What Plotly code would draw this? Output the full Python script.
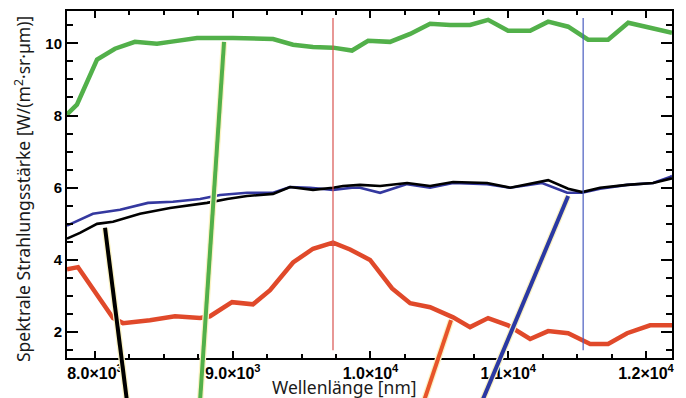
import plotly.graph_objects as go

# ---- data ----
green_x = [7797, 7869, 8015, 8145, 8290, 8450, 8545, 8741, 9002, 9293, 9438, 9583, 9728, 9866,
           9983, 10142, 10288, 10433, 10578, 10723, 10854, 10999, 11159, 11290, 11435, 11580,
           11725, 11871, 12030, 12189]
green_y = [8.03, 8.3, 9.55, 9.85, 10.04, 9.99, 10.04, 10.15, 10.15, 10.12, 9.96, 9.9, 9.88, 9.8,
           10.07, 10.04, 10.26, 10.54, 10.51, 10.51, 10.65, 10.35, 10.35, 10.6, 10.46, 10.1,
           10.1, 10.57, 10.43, 10.29]

blue_x = [7797, 7985, 8182, 8385, 8566, 8763, 8908, 9104, 9293, 9416, 9561, 9728, 9866, 9924,
          10070, 10266, 10433, 10600, 10847, 11014, 11246, 11428, 11537, 11667, 11863, 12052,
          12175, 12189]
blue_y = [4.95, 5.28, 5.39, 5.58, 5.61, 5.69, 5.8, 5.86, 5.86, 6.02, 6.0, 5.94, 6.0, 6.0,
          5.86, 6.1, 6.0, 6.13, 6.1, 6.0, 6.13, 5.86, 5.86, 5.97, 6.08, 6.13, 6.3, 6.33]

black_x = [7797, 7891, 8015, 8131, 8327, 8545, 8813, 8959, 9104, 9293, 9416, 9583, 9728, 9801,
           9924, 10070, 10266, 10433, 10600, 10847, 11014, 11290, 11435, 11537, 11667, 11863,
           12052, 12175, 12189]
black_y = [4.59, 4.75, 5.0, 5.06, 5.28, 5.44, 5.58, 5.69, 5.77, 5.83, 6.02, 5.94, 6.0, 6.05,
           6.08, 6.05, 6.13, 6.05, 6.16, 6.13, 6.0, 6.21, 5.97, 5.88, 6.0, 6.08, 6.13, 6.24, 6.26]

red_x = [7797, 7877, 8131, 8203, 8399, 8581, 8763, 8835, 8995, 9147, 9271, 9438, 9583, 9728,
         9852, 9997, 10157, 10288, 10433, 10600, 10723, 10854, 10999, 11159, 11290, 11435,
         11595, 11725, 11863, 12030, 12189]
red_y = [3.74, 3.8, 2.39, 2.25, 2.33, 2.44, 2.39, 2.44, 2.83, 2.77, 3.16, 3.93, 4.31, 4.48,
         4.29, 4.0, 3.21, 2.8, 2.69, 2.41, 2.14, 2.39, 2.19, 1.81, 2.03, 1.97,
         1.67, 1.67, 1.97, 2.19, 2.19]

# vertical marker lines (wavelength, from value, to value)
marker_x = [9728, 11544]
marker_y0 = [1.5, 1.5]
marker_y1 = [10.7, 10.7]

# callout lines (start on curve, end below the chart)
callout_x0 = [8073, 8937, 10585, 11435]
callout_y0 = [4.89, 10.04, 2.33, 5.77]
callout_x1 = [8232, 8763, 10389, 10812]
callout_y1 = [0.10, 0.10, 0.10, 0.10]

x_range = [7797, 12189]
y_range = [1.284, 10.895]

x_tickvals = [8000, 9000, 10000, 11000, 12000]
x_ticktext = ["8.0×10<sup>3</sup>", "9.0×10<sup>3</sup>", "1.0×10<sup>4</sup>",
              "1.1×10<sup>4</sup>", "1.2×10<sup>4</sup>"]
y_tickvals = [2, 4, 6, 8, 10]
y_ticktext = ["2", "4", "6", "8", "10"]

GREEN = "#52b04a"
BLUE = "#34389f"
BLACK = "#000000"
RED = "#e0492a"
callout_colors = [BLACK, GREEN, "#e8552a", "#2b39a3"]
marker_colors = ["#d9534f", "#4a5cc0"]

fig = go.Figure()
for xs, ys, col, w in [(green_x, green_y, GREEN, 4.5), (red_x, red_y, RED, 4.5),
                       (blue_x, blue_y, BLUE, 2.6), (black_x, black_y, BLACK, 2.6)]:
    fig.add_trace(go.Scatter(x=xs, y=ys, mode="lines",
                             line=dict(color=col, width=w), showlegend=False,
                             hoverinfo="skip"))

for mx, y0, y1, col in zip(marker_x, marker_y0, marker_y1, marker_colors):
    fig.add_shape(type="line", xref="x", yref="y", x0=mx, x1=mx, y0=y0, y1=y1,
                  line=dict(color=col, width=1.2), layer="above")


def px(v):
    return (v - x_range[0]) / (x_range[1] - x_range[0])


def py(v):
    return (v - y_range[0]) / (y_range[1] - y_range[0])


for x0, y0, x1, y1, col in zip(callout_x0, callout_y0, callout_x1, callout_y1, callout_colors):
    fig.add_shape(type="line", xref="paper", yref="paper",
                  x0=px(x0), y0=py(y0), x1=px(x1), y1=py(y1),
                  line=dict(color="#fbf3c4", width=6.5), layer="above")
    fig.add_shape(type="line", xref="paper", yref="paper",
                  x0=px(x0), y0=py(y0), x1=px(x1), y1=py(y1),
                  line=dict(color=col, width=4), layer="above")

X_TICK_FONT = dict(family="Liberation Sans", size=16, color="#000000", weight="bold")
Y_TICK_FONT = dict(family="Liberation Sans", size=15, color="#000000", weight="bold")

fig.add_annotation(text="Wellenlänge [nm]", xref="paper", yref="paper",
                   x=0.458, y=-0.084, xanchor="center", yanchor="middle",
                   showarrow=False,
                   font=dict(family="Noto Sans", size=17.5, color="#1a1a1a"))
fig.add_annotation(text="Spektrale Strahlungsstärke [W/(m<sup>2</sup>·sr·µm)]",
                   xref="paper", yref="paper", x=-0.0744, y=0.487,
                   xanchor="center", yanchor="middle", textangle=-90,
                   showarrow=False,
                   font=dict(family="Noto Sans", size=17.5, color="#1a1a1a"))

fig.update_layout(
    width=686, height=398,
    margin=dict(l=67, r=14, t=9, b=40),
    paper_bgcolor="white", plot_bgcolor="white",
    showlegend=False,
    xaxis=dict(range=x_range, tickmode="array", tickvals=x_tickvals,
               ticktext=x_ticktext,
               ticks="inside", ticklen=7, tickwidth=2, tickcolor="black",
               showline=True, linewidth=2, linecolor="black", mirror="allticks",
               showgrid=False, zeroline=False, tickfont=X_TICK_FONT,
               minor=dict(tick0=8000, dtick=250, ticks="inside", ticklen=4,
                          tickwidth=2, tickcolor="black", showgrid=False)),
    yaxis=dict(range=y_range, tickmode="array", tickvals=y_tickvals,
               ticktext=y_ticktext,
               ticks="inside", ticklen=11, tickwidth=2, tickcolor="black",
               showline=True, linewidth=2, linecolor="black", mirror="allticks",
               showgrid=False, zeroline=False, tickfont=Y_TICK_FONT,
               minor=dict(tick0=0, dtick=0.5, ticks="inside", ticklen=6,
                          tickwidth=2, tickcolor="black", showgrid=False)),
)

fig.write_html("out.html")
